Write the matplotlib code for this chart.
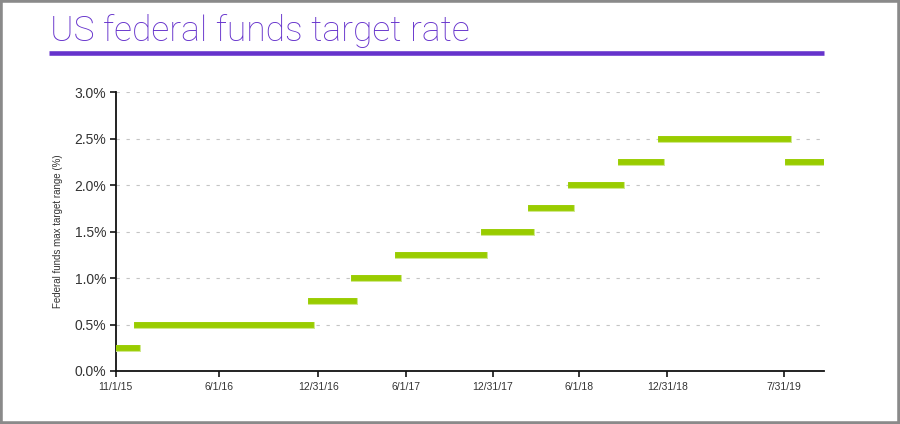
import matplotlib
matplotlib.use('Agg')
import matplotlib.pyplot as plt
import matplotlib.patheffects as pe
import pandas as pd
from matplotlib.patches import Rectangle
from matplotlib.lines import Line2D

# date each target rate took effect, and the upper bound of the range (%)
rate_dates = ['2015-11-01', '2015-12-16', '2016-12-14', '2017-03-15', '2017-06-14',
              '2017-12-13', '2018-03-21', '2018-06-13', '2018-09-26', '2018-12-19',
              '2019-09-11']
max_rates = [0.25, 0.5, 0.75, 1.0, 1.25, 1.5, 1.75, 2.0, 2.25, 2.5, 2.25]
last_date = '2019-11-30'

tick_dates = ['2015-11-01', '2016-06-05', '2016-12-30', '2017-07-01', '2017-12-30',
              '2018-06-30', '2018-12-31', '2019-09-02']
tick_labels = ['11/1/15', '6/1/16', '12/31/16', '6/1/17', '12/31/17',
               '6/1/18', '12/31/18', '7/31/19']
y_ticks = [0.0, 0.5, 1.0, 1.5, 2.0, 2.5, 3.0]

purple = '#6633cc'
green = '#99cc00'

plt.rcParams['font.family'] = ['Liberation Sans', 'DejaVu Sans']

fig = plt.figure(figsize=(9, 4.24), dpi=100)
ax = fig.add_axes([0.1286, 0.125, 0.7866, 0.658])

starts = pd.to_datetime(rate_dates)
ends = list(starts[1:]) + [pd.Timestamp(last_date)]
for s, e, r in zip(starts, ends, max_rates):
    ax.plot([s, e], [r, r], color=green, lw=4.2, solid_capstyle='projecting',
            path_effects=[pe.Stroke(linewidth=5.0, foreground='#cfe88a'), pe.Normal()],
            zorder=3)

ax.set_xlim(pd.Timestamp('2015-11-01'), pd.Timestamp('2019-11-24'))
ax.set_ylim(0, 3.0)
ax.set_xticks(pd.to_datetime(tick_dates))
ax.set_xticklabels(tick_labels)
ax.set_yticks(y_ticks)
ax.set_yticklabels(['%.1f%%' % v for v in y_ticks])

for v in y_ticks[1:]:
    ax.axhline(v, color='#c4c4c4', lw=0.8, ls=(0, (3, 6)), zorder=1)

for side in ['top', 'right']:
    ax.spines[side].set_visible(False)
for side in ['left', 'bottom']:
    ax.spines[side].set_linewidth(1.3)
    ax.spines[side].set_color('#111111')
ax.tick_params(axis='y', direction='out', length=4, width=1.1, labelsize=10,
               labelcolor='#333333', pad=3)
ax.tick_params(axis='x', direction='out', length=4, width=1.1, labelsize=7.5,
               labelcolor='#333333', pad=4)
ax.set_ylabel('Federal funds max target range (%)', fontsize=7, color='#333333',
              labelpad=8)

# title and rule
fig.text(0.0556, 0.904, 'US federal funds target rate', fontsize=25.5,
         family=['Roboto', 'DejaVu Sans'], fontweight='light', color=purple,
         va='baseline', ha='left')
fig.add_artist(Line2D([49 / 900, 824 / 900], [1 - 52.8 / 424] * 2,
                      color=purple, lw=3.3, solid_capstyle='butt'))

# frame around the whole picture
fig.add_artist(Rectangle((0, 0), 1, 1, transform=fig.transFigure, fill=False,
                         edgecolor='#8a8a8a', lw=4))

fig.savefig('out.png', dpi=100)
